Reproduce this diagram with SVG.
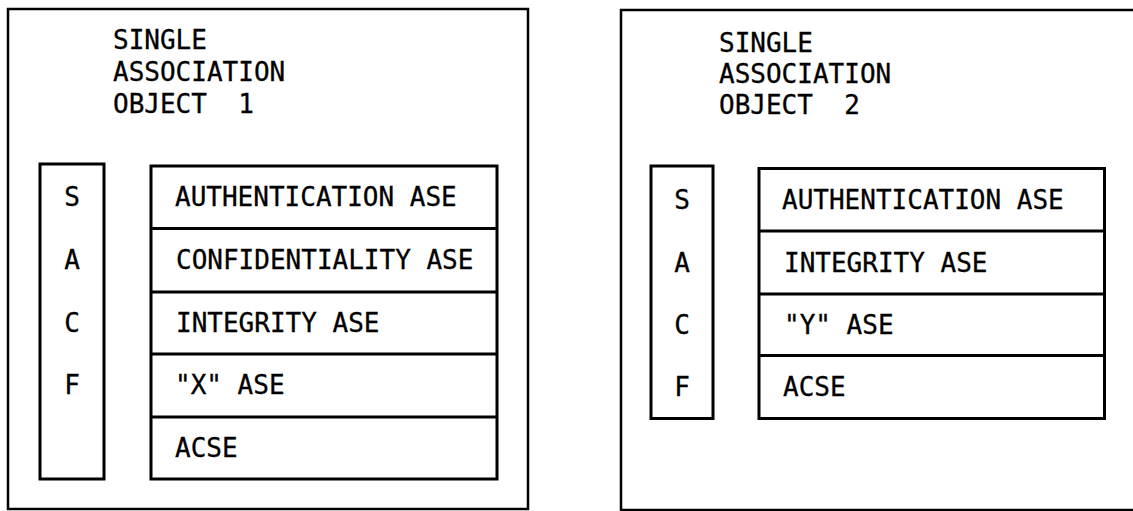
<svg xmlns="http://www.w3.org/2000/svg" width="1133" height="511" viewBox="0 0 1133 511">
  <style>
    .frame { fill: none; stroke: #000; stroke-width: 2.5; }
    .box { fill: none; stroke: #000; stroke-width: 3; }
    .sep { stroke: #000; stroke-width: 3; }
    text { font-family: "DejaVu Sans Mono", "Liberation Mono", monospace; font-size: 26px; fill: #000; stroke: #000; stroke-width: 0.3; white-space: pre; }
    .mid { text-anchor: middle; }
  </style>
  <rect width="1133" height="511" fill="#fff"/>

  <!-- Object 1 -->
  <g id="object1">
    <rect class="frame" x="8" y="9" width="520" height="500"/>
    <text x="113" y="49">SINGLE</text>
    <text x="113" y="81">ASSOCIATION</text>
    <text x="113" y="113" xml:space="preserve">OBJECT  1</text>
  </g>
  <g id="sacf1">
    <rect class="box" x="40" y="164" width="64" height="315"/>
    <text class="mid" x="72" y="206">S</text>
    <text class="mid" x="72" y="269">A</text>
    <text class="mid" x="72" y="332">C</text>
    <text class="mid" x="72" y="394">F</text>
  </g>
  <g id="ase-stack1">
    <rect class="box" x="151" y="166" width="346" height="313"/>
    <line class="sep" x1="151" y1="228.5" x2="497" y2="228.5"/>
    <line class="sep" x1="151" y1="292" x2="497" y2="292"/>
    <line class="sep" x1="151" y1="354" x2="497" y2="354"/>
    <line class="sep" x1="151" y1="417" x2="497" y2="417"/>
    <text x="175" y="206">AUTHENTICATION ASE</text>
    <text x="176" y="269">CONFIDENTIALITY ASE</text>
    <text x="176" y="332">INTEGRITY ASE</text>
    <text x="175" y="394">"X" ASE</text>
    <text x="175" y="457">ACSE</text>
  </g>

  <!-- Object 2 (frame runs past the right edge) -->
  <g id="object2">
    <rect class="frame" x="621" y="10" width="530" height="500"/>
    <text x="719" y="51.5">SINGLE</text>
    <text x="719" y="82.5">ASSOCIATION</text>
    <text x="719" y="113.5" xml:space="preserve">OBJECT  2</text>
  </g>
  <g id="sacf2">
    <rect class="box" x="651" y="166" width="62" height="252.5"/>
    <text class="mid" x="682" y="208.5">S</text>
    <text class="mid" x="682" y="271.5">A</text>
    <text class="mid" x="682" y="333.5">C</text>
    <text class="mid" x="682" y="396">F</text>
  </g>
  <g id="ase-stack2">
    <rect class="box" x="759" y="168.5" width="345.5" height="250"/>
    <line class="sep" x1="759" y1="231" x2="1104.5" y2="231"/>
    <line class="sep" x1="759" y1="294" x2="1104.5" y2="294"/>
    <line class="sep" x1="759" y1="355.5" x2="1104.5" y2="355.5"/>
    <text x="782" y="208.5">AUTHENTICATION ASE</text>
    <text x="784" y="271.5">INTEGRITY ASE</text>
    <text x="784" y="333.5">"Y" ASE</text>
    <text x="783" y="396">ACSE</text>
  </g>
</svg>
